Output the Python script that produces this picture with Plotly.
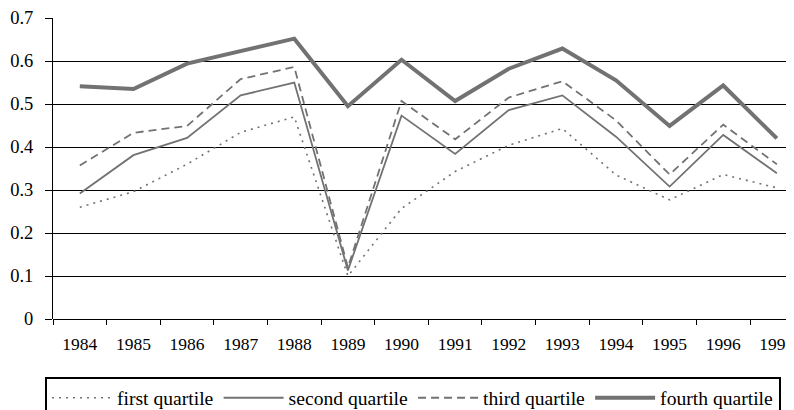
import plotly.graph_objects as go

years = ["1984", "1985", "1986", "1987", "1988", "1989", "1990",
         "1991", "1992", "1993", "1994", "1995", "1996", "1997"]

first_quartile = [0.260, 0.296, 0.360, 0.434, 0.470, 0.100, 0.257,
                  0.343, 0.404, 0.443, 0.335, 0.277, 0.336, 0.305]
second_quartile = [0.292, 0.381, 0.421, 0.520, 0.550, 0.113, 0.473,
                   0.384, 0.486, 0.520, 0.424, 0.308, 0.428, 0.339]
third_quartile = [0.357, 0.433, 0.449, 0.558, 0.586, 0.120, 0.507,
                  0.418, 0.515, 0.553, 0.462, 0.336, 0.452, 0.360]
fourth_quartile = [0.541, 0.535, 0.594, 0.623, 0.652, 0.495, 0.603,
                   0.507, 0.582, 0.629, 0.555, 0.449, 0.543, 0.420]

series_names = ["first quartile", "second quartile", "third quartile", "fourth quartile"]

FONT = "Times New Roman"
GREY = "#727272"

# the page body adds an 8px offset; figure is sized to fill the window exactly
W, H = 786, 402

fig = go.Figure()
styles = [
    dict(width=1.6, dash="2px,5px"),
    dict(width=1.8, dash="solid"),
    dict(width=1.8, dash="8px,5px"),
    dict(width=4, dash="solid"),
]
for name, vals, st in zip(series_names,
                          [first_quartile, second_quartile, third_quartile, fourth_quartile],
                          styles):
    fig.add_trace(go.Scatter(x=years, y=vals, mode="lines", name=name,
                             line=dict(color=GREY, width=st["width"], dash=st["dash"])))

fig.update_layout(
    width=W, height=H,
    margin=dict(l=45, r=0, t=10, b=91, autoexpand=False),
    paper_bgcolor="white", plot_bgcolor="white",
    font=dict(family=FONT, size=17, color="black"),
    showlegend=True,
    legend=dict(orientation="h", x=37 / W, xanchor="left", xref="container",
                y=1 - 368.5 / H, yanchor="top", yref="container",
                bordercolor="black", borderwidth=2,
                font=dict(family=FONT, size=19.6, color="black"),
                itemwidth=60, tracegroupgap=0),
    xaxis=dict(type="category", range=[-0.5, 13.32], automargin=False,
               showgrid=False, showline=False, zeroline=False,
               ticks="outside", tickson="boundaries", ticklen=5,
               tickcolor="black", tickwidth=1, ticklabelstandoff=12,
               tickfont=dict(family=FONT, size=17.5, color="black")),
    yaxis=dict(range=[0, 0.7], dtick=0.1, tick0=0, automargin=False,
               showgrid=True, gridcolor="black", gridwidth=1,
               showline=True, linecolor="black", linewidth=1,
               zeroline=True, zerolinecolor="black", zerolinewidth=1,
               ticks="outside", ticklen=7, tickcolor="black",
               ticklabelstandoff=8,
               tickfont=dict(family=FONT, size=18.5, color="black")),
)

fig.write_html("out.html")
